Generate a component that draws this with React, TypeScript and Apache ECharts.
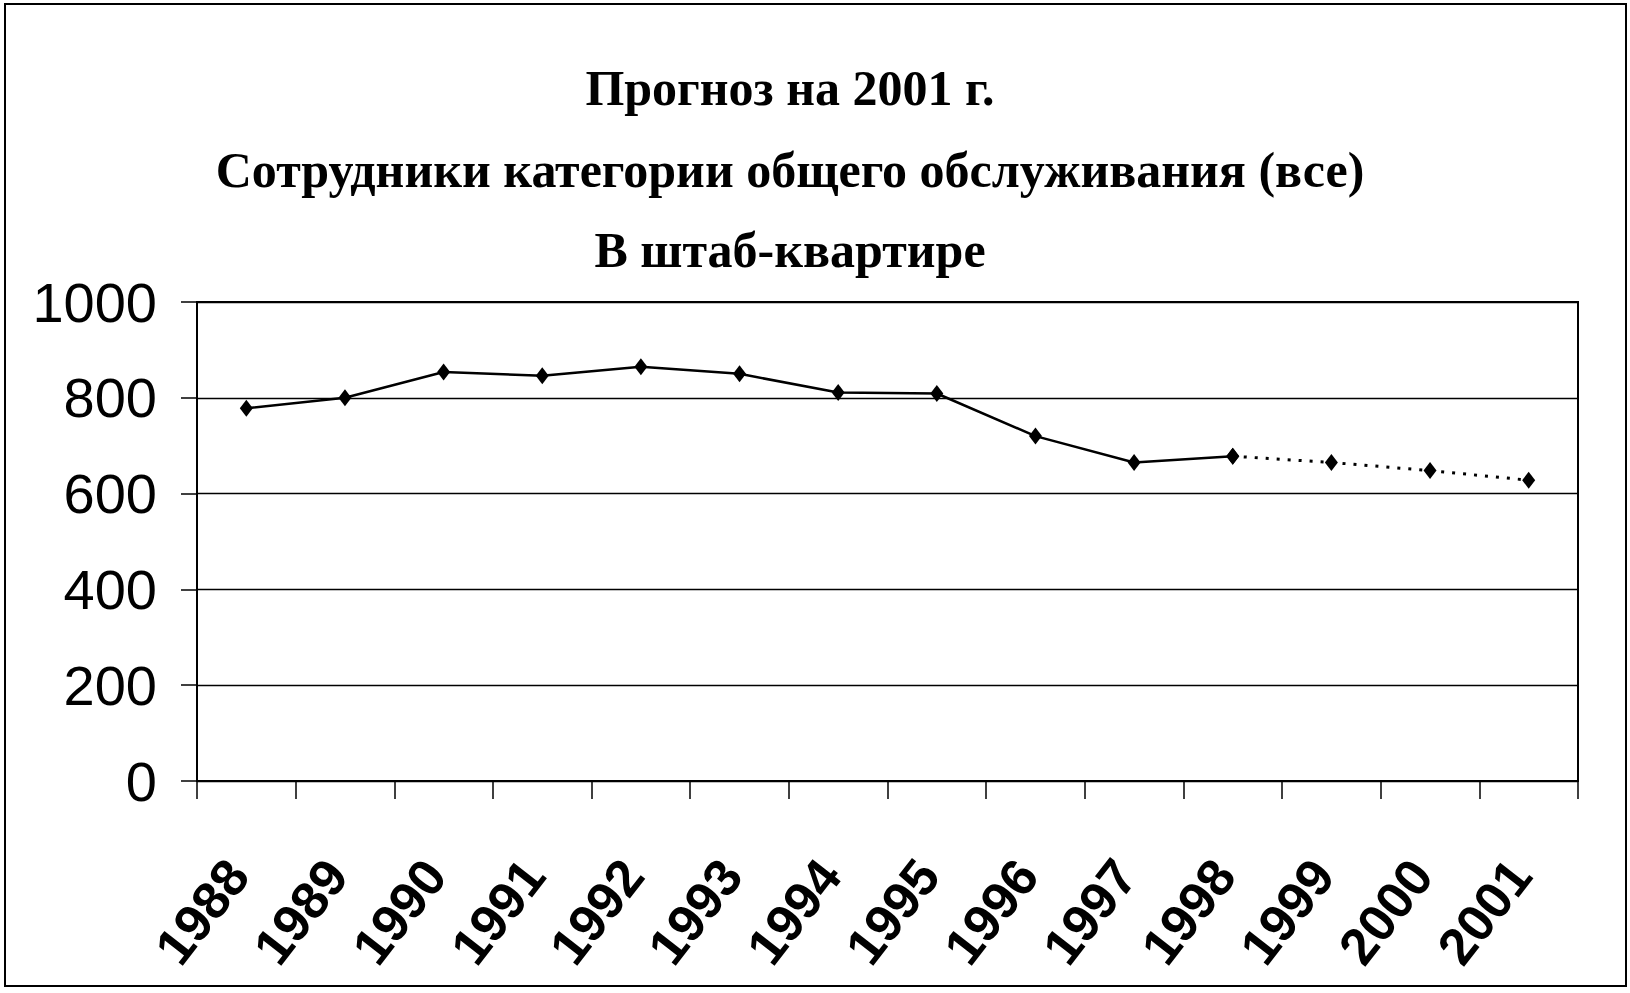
import React, { useEffect, useRef } from "react";
import * as echarts from "echarts";

const titleLines = [
  "Прогноз на 2001 г.",
  "Сотрудники категории общего обслуживания (все)",
  "В штаб-квартире",
];
const years = ["1988", "1989", "1990", "1991", "1992", "1993", "1994", "1995", "1996", "1997", "1998", "1999", "2000", "2001"];
const actualValues = [778, 800, 854, 846, 865, 850, 811, 809, 720, 665, 678, null, null, null];
const forecastValues = [null, null, null, null, null, null, null, null, null, null, 678, 665, 648, 628];
const yTicks = { min: 0, max: 1000, interval: 200 };

export default function App() {
  const ref = useRef<HTMLDivElement>(null);
  useEffect(() => {
    if (!ref.current) return;
    const chart = echarts.init(ref.current, null, { renderer: "svg" });
    const titleTops = [63, 145, 225];
    chart.setOption({
      animation: false,
      backgroundColor: "#ffffff",
      title: titleLines.map((t, i) => ({
        text: t,
        left: 790,
        top: titleTops[i],
        textAlign: "center",
        padding: 0,
        textStyle: {
          fontFamily: "Liberation Serif",
          fontWeight: "bold",
          fontSize: 50,
          color: "#000",
        },
      })),
      graphic: [
        {
          type: "rect",
          shape: { x: 5, y: 4, width: 1621, height: 982 },
          style: { fill: "none", stroke: "#000", lineWidth: 2 },
          silent: true,
        },
      ],
      grid: {
        left: 197,
        right: 52,
        top: 302,
        bottom: 212,
        show: true,
        borderColor: "#000",
        borderWidth: 2,
        backgroundColor: "transparent",
      },
      xAxis: {
        type: "category",
        data: years,
        boundaryGap: true,
        axisLine: { lineStyle: { color: "#000", width: 2 } },
        axisTick: { show: true, length: 18, lineStyle: { color: "#000", width: 1.5 } },
        axisLabel: {
          rotate: 52,
          margin: 74,
          padding: [0, 14, 0, 0],
          fontFamily: "Liberation Sans",
          fontWeight: "bold",
          fontSize: 52,
          color: "#000",
          interval: 0,
        },
      },
      yAxis: {
        type: "value",
        min: yTicks.min,
        max: yTicks.max,
        interval: yTicks.interval,
        axisLine: { show: true, lineStyle: { color: "#000", width: 2 } },
        axisTick: { show: true, length: 16, lineStyle: { color: "#000", width: 1.5 } },
        splitLine: { show: true, lineStyle: { color: "#000", width: 1.3 } },
        axisLabel: {
          margin: 40,
          fontFamily: "Liberation Sans",
          fontSize: 56,
          color: "#000",
          formatter: (v: number) => String(v),
        },
      },
      series: [
        {
          name: "Факт",
          type: "line",
          data: actualValues,
          symbol: "diamond",
          symbolSize: [13, 17],
          itemStyle: { color: "#000" },
          lineStyle: { color: "#000", width: 2.5 },
          connectNulls: false,
        },
        {
          name: "Прогноз",
          type: "line",
          data: forecastValues,
          symbol: "diamond",
          symbolSize: [13, 17],
          itemStyle: { color: "#000" },
          lineStyle: { color: "#000", width: 3, type: [3, 8] },
          connectNulls: false,
        },
      ],
    });
    return () => chart.dispose();
  }, []);
  return (
    <div
      ref={ref}
      style={{ position: "absolute", left: 0, top: 0, width: 1630, height: 993 }}
    />
  );
}
